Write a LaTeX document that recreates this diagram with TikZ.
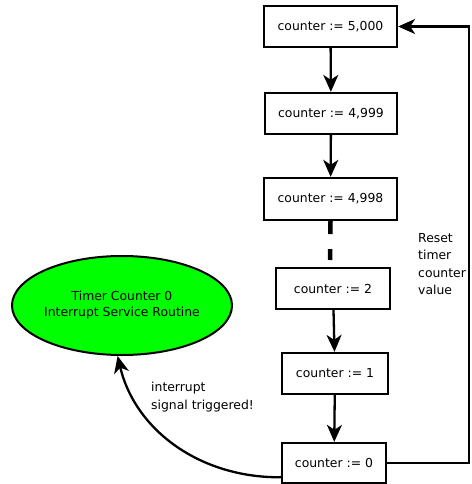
\documentclass[tikz,border=0pt]{standalone}
\usepackage{fontspec}
\setmainfont{DejaVu Sans}
\usetikzlibrary{arrows.meta,shapes.geometric}

\tikzset{
  counterbox/.style={draw, line width=2.3pt, rectangle, inner sep=0pt,
    minimum height=41pt, font=\fontsize{12.4}{15}\selectfont},
  arr/.style={line width=2.3pt, -{Stealth[length=17pt,width=15pt,inset=5pt]}},
  note/.style={anchor=west, align=left, inner sep=0pt,
    font=\fontsize{12.4}{17.4}\selectfont},
}

\begin{document}
\begin{tikzpicture}[x=1pt, y=-1pt]
  \useasboundingbox (0,0) rectangle (471,484);

  % countdown chain
  \node[counterbox, minimum width=133pt] (b1) at (330.5,26.5) {counter := 5,000};
  \node[counterbox, minimum width=132pt] (b2) at (331,113.5) {counter := 4,999};
  \node[counterbox, minimum width=133pt, minimum height=42pt] (b3) at (330.5,199) {counter := 4,998};
  \node[counterbox, minimum width=114pt] (b4) at (333,288.5) {counter := 2};
  \node[counterbox, minimum width=106pt] (b5) at (335,373.5) {counter := 1};
  \node[counterbox, minimum width=104pt, minimum height=40pt] (b6) at (334,463) {counter := 0};

  % interrupt service routine
  \node[draw, line width=2pt, ellipse, fill={rgb,255:red,0;green,255;blue,0},
        minimum width=218pt, minimum height=99pt, inner sep=0pt, align=center,
        font=\fontsize{12.4}{16}\selectfont] (isr) at (122,305.5)
        {Timer Counter 0\\Interrupt Service Routine};

  % steps
  \draw[arr] (b1) -- (b2);
  \draw[arr] (b2) -- (b3);
  \coordinate (gapend) at (330,260);
  \draw[line width=4.5pt, dash pattern=on 13pt off 15pt] (b3.south) -- (gapend);
  \draw[arr] (b4) -- (b5);
  \draw[arr] (b5) -- (b6);

  % reset back to the start value
  \draw[arr] (b6.east) -- ++(82,0) |- (b1.east);
  \node[note] (reset) at (418,264) {Reset\\timer\\counter\\value};

  % interrupt fires on zero
  \draw[arr] (b6.195) .. controls (200,478) and (135,430) .. (isr.265);
  \node[note] (irq) at (151,397) {interrupt\\signal triggered!};
\end{tikzpicture}
\end{document}
